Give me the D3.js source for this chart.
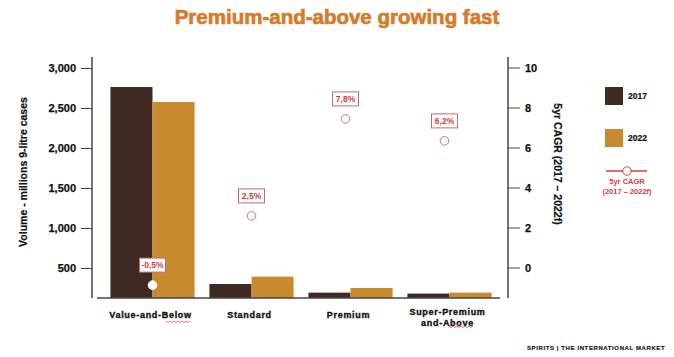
<!DOCTYPE html>
<html><head><meta charset="utf-8">
<script src="https://cdn.jsdelivr.net/npm/d3@7"></script>
<style>body{margin:0;background:#fff}svg{display:block}</style>
</head><body>
<svg id="c" width="674" height="357"></svg>
<script>
const categories = ["Value-and-Below", "Standard", "Premium", "Super-Premium\nand-Above"];
const series2017 = [2762, 300, 192, 180];
const series2022 = [2575, 392, 250, 192];
const cagrPos = [-0.88, 2.58, 7.43, 6.33];
const cagrLabels = ["-0,5%", "2,5%", "7,8%", "6,2%"];
const leftTicks = [500, 1000, 1500, 2000, 2500, 3000];
const rightTicks = [0, 2, 4, 6, 8, 10];

const svg = d3.select("#c");
const F = "'Liberation Sans', Arial, sans-serif";
const C17 = "#3e2a22", C22 = "#c98a2e", RED = "#d0413b";

svg.append("text").attr("x", 337).attr("y", 24).attr("text-anchor", "middle")
  .attr("font-family", F).attr("font-weight", "bold").attr("font-size", 20.5)
  .attr("fill", "#d57b2b").attr("stroke", "#d57b2b").attr("stroke-width", 0.7)
  .text("Premium-and-above growing fast");

const x = d3.scaleBand().domain(categories).range([103, 499]).paddingInner(0.15).paddingOuter(0.075);
const sub = d3.scaleBand().domain(["2017", "2022"]).range([0, x.bandwidth()]);
const yL = d3.scaleLinear().domain([125, 3137.5]).range([298, 57]);
const yR = d3.scaleLinear().domain([-1.5, 10.5]).range([297.5, 57.5]);

// bars
const g = svg.append("g");
g.selectAll("rect.b17").data(series2017).join("rect")
  .attr("x", (d, i) => x(categories[i]) + sub("2017")).attr("width", sub.bandwidth())
  .attr("y", d => yL(d)).attr("height", d => yL(125) - yL(d)).attr("fill", C17);
g.selectAll("rect.b22").data(series2022).join("rect").attr("class", "b22")
  .attr("x", (d, i) => x(categories[i]) + sub("2022")).attr("width", sub.bandwidth())
  .attr("y", d => yL(d)).attr("height", d => yL(125) - yL(d)).attr("fill", C22);

// axes
const axL = svg.append("g").attr("transform", "translate(92,0)")
  .call(d3.axisLeft(yL).tickValues(leftTicks).tickFormat(d3.format(",")).tickSize(11).tickPadding(5));
axL.select(".domain").remove();
const axR = svg.append("g").attr("transform", "translate(508,0)")
  .call(d3.axisRight(yR).tickValues(rightTicks).tickSize(12).tickPadding(5));
axR.select(".domain").remove();
[axL, axR].forEach(a => {
  a.selectAll("line").attr("stroke", "#444").attr("stroke-width", 1);
  a.selectAll("text").attr("font-family", F).attr("font-weight", "bold").attr("font-size", 11)
    .attr("fill", "#111").attr("stroke", "#111").attr("stroke-width", 0.25);
});
svg.append("line").attr("x1", 92).attr("x2", 92).attr("y1", 57).attr("y2", 298).attr("stroke", "#444").attr("stroke-width", 1.5);
svg.append("line").attr("x1", 508).attr("x2", 508).attr("y1", 57).attr("y2", 298).attr("stroke", "#444").attr("stroke-width", 1.5);
svg.append("line").attr("x1", 97).attr("x2", 500).attr("y1", 298).attr("y2", 298).attr("stroke", "#444").attr("stroke-width", 1.5);

// axis titles
svg.append("text").attr("transform", "translate(27,172) rotate(-90)").attr("text-anchor", "middle")
  .attr("font-family", F).attr("font-weight", "bold").attr("font-size", 10.5).attr("fill", "#111")
  .attr("stroke", "#111").attr("stroke-width", 0.2)
  .text("Volume - millions 9-litre cases");
svg.append("text").attr("transform", "translate(554,164) rotate(90)").attr("text-anchor", "middle")
  .attr("font-family", F).attr("font-weight", "bold").attr("font-size", 10.5).attr("fill", "#111")
  .attr("stroke", "#111").attr("stroke-width", 0.2)
  .text("5yr CAGR (2017 \u2013 2022f)");

// category labels
categories.forEach((c, i) => {
  const lines = c.split("\n");
  const cx = x(c) + x.bandwidth() / 2 - 2;
  const t = svg.append("text").attr("text-anchor", "middle").attr("font-family", F)
    .attr("font-weight", "bold").attr("font-size", 9).attr("letter-spacing", 0.7).attr("fill", "#111")
    .attr("stroke", "#111").attr("stroke-width", 0.35);
  const y0 = lines.length > 1 ? 315 : 318;
  lines.forEach((l, j) => t.append("tspan").attr("x", cx).attr("y", y0 + j * 11).text(l));
});
// spellcheck squiggles
function squiggle(x0, x1, y) {
  let p = `M${x0},${y}`;
  for (let xx = x0, k = 0; xx < x1; xx += 2, k++) p += ` L${xx + 2},${y + (k % 2 ? 0 : 1.5)}`;
  svg.append("path").attr("d", p).attr("fill", "none").attr("stroke", "#e05050").attr("stroke-width", 0.8);
}
squiggle(166, 190, 321);
squiggle(449, 473, 326);

// CAGR points + labels
cagrPos.forEach((v, i) => {
  const cx = x(categories[i]) + x.bandwidth() / 2 - (i > 1 ? 5 : 0);
  const cy = yR(v);
  svg.append("circle").attr("cx", cx).attr("cy", cy).attr("r", 4.3)
    .attr("fill", "#fff").attr("stroke", i === 0 ? "#fff" : "#b77a86").attr("stroke-width", 1);
  svg.append("rect").attr("x", cx - 13).attr("y", cy - 27).attr("width", 26).attr("height", 14)
    .attr("fill", "#fff").attr("stroke", "#c36a6a").attr("stroke-width", 1);
  svg.append("text").attr("x", cx).attr("y", cy - 16.8).attr("text-anchor", "middle")
    .attr("font-family", F).attr("font-weight", "bold").attr("font-size", 8.5).attr("fill", RED)
    .text(cagrLabels[i]);
});

// legend
const leg = [["2017", C17, 87], ["2022", C22, 129]];
leg.forEach(([t, c, y]) => {
  svg.append("rect").attr("x", 605).attr("y", y).attr("width", 18).attr("height", 18).attr("fill", c);
  svg.append("text").attr("x", 628).attr("y", y + 12).attr("font-family", F).attr("font-weight", "bold")
    .attr("font-size", 8.5).attr("fill", "#111").attr("stroke", "#111").attr("stroke-width", 0.2).text(t);
});
svg.append("line").attr("x1", 606).attr("x2", 647).attr("y1", 171).attr("y2", 171).attr("stroke", RED).attr("stroke-width", 1.5);
svg.append("circle").attr("cx", 627).attr("cy", 171).attr("r", 4.2).attr("fill", "#fff").attr("stroke", RED).attr("stroke-width", 1);
svg.append("text").attr("x", 627).attr("y", 184).attr("text-anchor", "middle").attr("font-family", F)
  .attr("font-weight", "bold").attr("font-size", 7.5).attr("fill", RED).text("5yr CAGR");
svg.append("text").attr("x", 627).attr("y", 194).attr("text-anchor", "middle").attr("font-family", F)
  .attr("font-weight", "bold").attr("font-size", 7.5).attr("fill", RED).text("(2017 \u2013 2022f)");

// footer
svg.append("text").attr("x", 527).attr("y", 350).attr("font-family", F).attr("font-weight", "bold")
  .attr("font-size", 6).attr("letter-spacing", 0.6).attr("fill", "#111").attr("stroke", "#111").attr("stroke-width", 0.15)
  .text("SPIRITS  |  THE INTERNATIONAL MARKET");
</script>
</body></html>
